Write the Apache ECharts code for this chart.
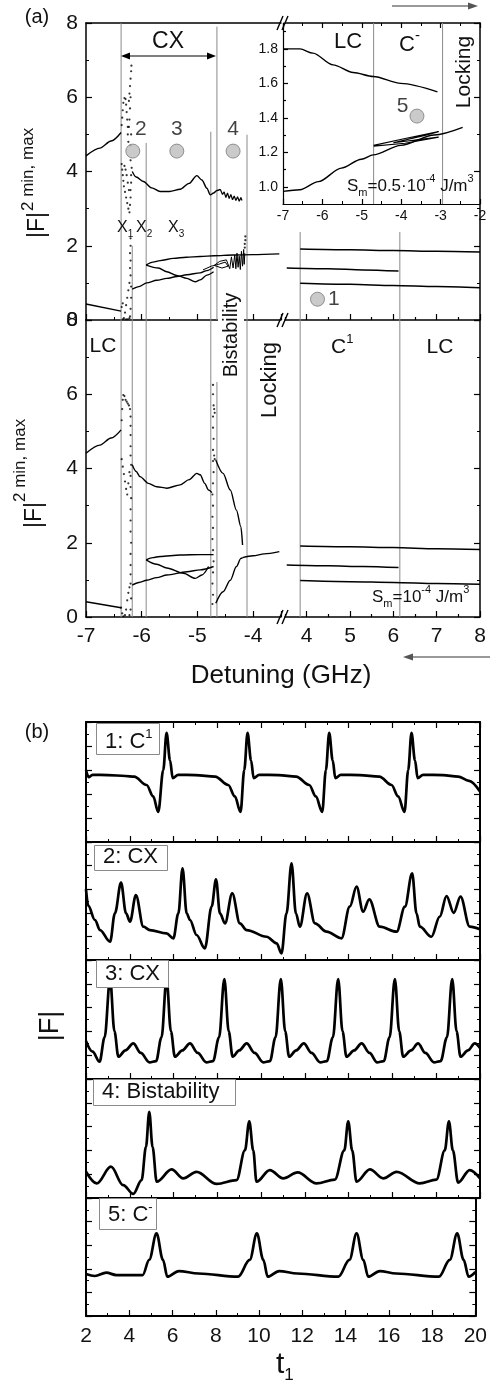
<!DOCTYPE html>
<html>
<head>
<meta charset="utf-8">
<script src="https://cdn.jsdelivr.net/npm/echarts@6.0.0/dist/echarts.min.js"></script>
<style>
html,body{margin:0;padding:0;background:#fff;}
#chart{width:490px;height:1385px;}
</style>
</head>
<body>
<div id="chart"></div>
<script>
// ======================= DATA =======================
// ---- Panel (a), upper plot, negative detuning segment (GHz, |F|^2) ----
const aU_lcTop = [[-7,4.42],[-6.75,4.63],[-6.55,4.82],[-6.37,5.05]];
const aU_lcBottom = [[-7,0.43],[-6.37,0.24]];
const aU_cxTop = [[-6.17,4.0],[-6.1,3.85],[-5.97,3.73],[-5.82,3.56],[-5.67,3.46],[-5.5,3.46],[-5.31,3.52],[-5.15,3.68],[-5.01,3.89],[-4.92,3.77],[-4.83,3.55],[-4.77,3.37],[-4.71,3.42],[-4.65,3.49],[-4.59,3.52]];
const aU_cxNoise = [[-4.59,3.52],[-4.55,3.38],[-4.52,3.45],[-4.49,3.3],[-4.46,3.42],[-4.43,3.27],[-4.4,3.38],[-4.37,3.24],[-4.34,3.34],[-4.31,3.22],[-4.28,3.32],[-4.25,3.2],[-4.22,3.3],[-4.2,3.22]];
const aU_lower = [[-6.17,0.83],[-6.05,0.9],[-5.91,1.0],[-5.73,1.07],[-5.55,1.12],[-5.37,1.17],[-5.19,1.22],[-4.95,1.27],[-4.83,1.33],[-4.71,1.42]];
const aU_lobeTop = [[-5.92,1.48],[-5.8,1.56],[-5.67,1.6],[-5.43,1.66],[-5.2,1.69],[-4.95,1.71],[-4.7,1.73],[-4.36,1.75],[-4.0,1.76],[-3.53,1.78]];
const aU_lobeBottom = [[-5.92,1.48],[-5.7,1.4],[-5.55,1.3],[-5.37,1.2],[-5.19,1.12],[-5.04,1.03],[-4.95,1.08],[-4.83,1.21],[-4.71,1.3]];
const aU_blob = [[-4.9,1.35],[-4.75,1.45],[-4.62,1.5],[-4.5,1.56],[-4.45,1.45],[-4.56,1.4],[-4.7,1.47],[-4.6,1.58],[-4.48,1.62],[-4.42,1.38],[-4.39,1.7],[-4.36,1.4],[-4.33,1.75],[-4.31,1.38],[-4.29,1.8],[-4.27,1.42],[-4.25,1.72],[-4.23,1.36],[-4.21,1.85],[-4.19,1.45],[-4.17,1.9],[-4.16,1.5],[-4.15,1.8]];
const aU_chaos = [[-6.36,5.25],[-6.35,5.45],[-6.34,5.65],[-6.33,5.85],[-6.31,5.98],[-6.29,5.95],[-6.28,5.8],[-6.27,5.6],[-6.26,5.4],[-6.25,5.2],[-6.25,5.0],[-6.24,4.8],[-6.23,5.9],[-6.22,6.1],[-6.21,6.3],[-6.2,6.5],[-6.19,6.7],[-6.185,6.85],[-6.2,6.0],[-6.21,5.7],[-6.22,5.4],[-6.23,5.2],[-6.19,5.0],[-6.2,4.7],
  [-6.36,4.2],[-6.35,4.05],[-6.34,3.9],[-6.33,3.75],[-6.32,3.6],[-6.3,3.45],[-6.28,3.3],[-6.26,3.15],[-6.24,3.0],[-6.22,2.9],[-6.21,3.1],[-6.2,3.3],[-6.2,3.5],[-6.19,3.7],[-6.19,3.9],[-6.18,4.1],[-6.2,4.3],[-6.23,3.5],[-6.25,3.7],[-6.27,3.9],[-6.29,4.05],[-6.31,4.15],
  [-6.2,2.2],[-6.2,2.0],[-6.21,1.8],[-6.2,1.6],[-6.21,1.4],[-6.2,1.2],[-6.22,1.0],[-6.24,0.8],[-6.26,0.6],[-6.28,0.4],[-6.3,0.2],[-6.32,0.05],[-6.34,0.02],[-6.22,0.05],[-6.2,0.3],[-6.19,0.6],[-6.19,0.9],[-6.21,0.1],[-6.25,0.02],[-6.28,0.02],[-6.36,0.35],[-6.34,0.45]];
const aU_spike = [[-4.15,1.95],[-4.15,2.05],[-4.14,2.15],[-4.14,2.25]];
// positive detuning segment
const aU_r1 = [[3.85,1.91],[5,1.89],[6,1.87],[7,1.85],[8,1.83]];
const aU_r2 = [[3.54,1.40],[4.5,1.38],[5.3,1.35],[6.12,1.32]];
const aU_r3 = [[3.85,0.99],[5,0.96],[6,0.93],[7,0.9],[8,0.87]];
// regime boundaries [GHz, from, to]
const aU_bounds = [[-6.37,0,8],[-6.17,0,2.0],[-5.92,0,4.77],[-4.76,0,5.07],[-4.65,0,7.9],[-4.11,0,4.99]];
const aU_boundsR = [[3.85,0,2.37],[6.15,0,2.37]];
const aU_points = [{n:'2',v:[-6.16,4.55]},{n:'3',v:[-5.37,4.55]},{n:'4',v:[-4.36,4.55]}];
const aU_pointR = [{n:'1',v:[4.25,0.56]}];

// ---- Panel (a), lower plot (Sm = 1e-4 J/m^3) ----
const aL_lcTop = [[-7,4.41],[-6.75,4.63],[-6.55,4.82],[-6.37,5.04]];
const aL_lcBottom = [[-7,0.41],[-6.37,0.25]];
const aL_cxTop = [[-6.17,4.1],[-6.1,3.92],[-6.03,3.78],[-5.88,3.6],[-5.73,3.51],[-5.55,3.47],[-5.31,3.56],[-5.15,3.7],[-5.01,3.87],[-4.95,3.83],[-4.87,3.6],[-4.8,3.42],[-4.74,3.35]];
const aL_lower = [[-6.17,0.86],[-6.05,0.93],[-5.91,0.99],[-5.73,1.06],[-5.55,1.13],[-5.19,1.22],[-4.95,1.27],[-4.71,1.36]];
const aL_lobeTop = [[-5.92,1.54],[-5.8,1.6],[-5.67,1.63],[-5.31,1.67],[-4.95,1.68],[-4.71,1.68]];
const aL_lobeBottom = [[-5.92,1.54],[-5.73,1.42],[-5.55,1.32],[-5.25,1.18],[-5.04,1.04],[-4.92,1.13],[-4.8,1.36]];
const aL_bistUpper = [[-4.67,4.23],[-4.54,3.87],[-4.41,3.42],[-4.3,2.88],[-4.22,2.43],[-4.19,1.94]];
const aL_bistLower = [[-4.67,0.37],[-4.54,0.68],[-4.41,0.99],[-4.3,1.36],[-4.22,1.58],[-4.19,1.6]];
const aL_lockLine = [[-4.19,1.6],[-4.0,1.65],[-3.8,1.7],[-3.53,1.76]];
const aL_chaos1 = [[-6.36,5.3],[-6.35,5.6],[-6.34,5.85],[-6.33,5.98],[-6.31,5.95],[-6.29,5.85],[-6.27,5.8],[-6.25,5.75],[-6.23,5.7],[-6.21,5.6],[-6.2,5.4],[-6.2,5.15],[-6.2,4.9],[-6.2,4.6],[-6.2,4.35],[-6.19,4.1],[-6.2,3.8],[-6.2,3.5],[-6.19,3.2],[-6.2,2.9],[-6.2,2.6],[-6.2,2.3],[-6.19,2.0],[-6.2,1.7],[-6.2,1.4],[-6.2,1.15],
  [-6.36,4.25],[-6.34,4.05],[-6.32,3.85],[-6.3,3.65],[-6.28,3.45],[-6.26,3.3],[-6.24,3.6],[-6.22,3.9],
  [-6.37,0.25],[-6.35,0.1],[-6.33,0.02],[-6.3,0.05],[-6.28,0.2],[-6.26,0.45],[-6.24,0.65],[-6.22,0.8],[-6.2,0.9],[-6.19,0.5],[-6.2,0.2],[-6.22,0.05]];
const aL_chaos2 = [[-4.73,0.35],[-4.72,0.6],[-4.73,0.9],[-4.72,1.2],[-4.71,1.5],[-4.72,1.8],[-4.73,2.1],[-4.72,2.4],[-4.73,2.7],[-4.72,3.0],[-4.73,3.3],[-4.72,3.6],[-4.71,3.9],[-4.72,4.2],[-4.72,4.5],[-4.71,4.8],[-4.72,5.1],[-4.72,5.4],[-4.71,5.7],[-4.72,6.0],[-4.72,6.25],[-4.7,4.35],[-4.69,4.25],[-4.7,5.6],[-4.69,5.5]];
const aL_r1 = [[3.85,1.91],[5,1.89],[6,1.87],[7,1.84],[8,1.82]];
const aL_r2 = [[3.54,1.40],[4.5,1.38],[5.3,1.36],[6.12,1.33]];
const aL_r3 = [[3.85,0.98],[5,0.95],[6,0.93],[7,0.9],[8,0.88]];
const aL_bounds = [[-6.37,0,8],[-6.17,0,8],[-5.92,0,8],[-4.76,0,8],[-4.65,0,6.33],[-4.11,0,8]];
const aL_boundsR = [[3.85,0,8],[6.15,0,8]];

// ---- Inset (Sm = 0.5e-4 J/m^3) ----
const in_top = [[-7,1.80],[-6.57,1.80],[-6.24,1.775],[-5.73,1.707],[-5.22,1.663],[-4.71,1.64],[-4.01,1.60],[-3.08,1.55]];
const in_bottom = [[-7,0.973],[-6.57,0.983],[-6.1,1.03],[-5.52,1.108],[-5.01,1.16],[-4.71,1.185],[-4.01,1.24],[-3.16,1.30],[-2.44,1.344]];
const in_wedge = [[-4.7,1.24],[-3.9,1.28],[-3.05,1.32],[-3.4,1.298],[-4.2,1.255],[-3.05,1.288],[-3.9,1.252],[-4.7,1.236]];
const in_bounds = [[-4.7,0.9,1.95],[-2.95,0.9,1.95]];
const in_point = [{n:'5',v:[-3.6,1.41]}];
const in_yTicks = [1.0,1.2,1.4,1.6,1.8];
const in_yMinor = [1.1,1.3,1.5,1.7,1.9];

const aR_majorTicks = [4,5,6,7,8];
const aR_minorTicks = [3.5,4.5,5.5,6.5,7.5];

// ---- Panel (b), time traces |F| vs t1 (arbitrary units 0..10) ----
const b1_C1 = [[2.0,6.0],[2.12,5.4],[2.3,5.6],[3.0,5.58],[3.8,5.5],[4.2,5.44],[4.77,4.75],[5.07,3.8],[5.3,2.5],[5.53,6.0],[5.68,9.1],[5.84,6.8],[5.96,5.33],[6.21,5.6],[7.0,5.58],[7.9,5.45],[8.5,4.75],[8.8,3.8],[9.06,2.5],[9.23,6.0],[9.38,9.1],[9.54,6.8],[9.66,5.33],[9.91,5.6],[10.8,5.58],[11.6,5.45],[12.2,4.75],[12.5,3.8],[12.79,2.5],[12.96,6.0],[13.11,9.1],[13.27,6.8],[13.39,5.33],[13.64,5.6],[14.5,5.58],[15.4,5.45],[15.96,4.75],[16.26,3.8],[16.55,2.5],[16.72,6.0],[16.87,9.1],[17.03,6.8],[17.15,5.33],[17.4,5.6],[18.3,5.58],[19.0,5.45],[19.5,5.1],[20.0,4.2]];
const b2_CX = [[2.0,6.0],[2.1,4.6],[2.41,3.39],[2.64,2.54],[3.1,1.55],[3.32,3.95],[3.6,6.55],[3.83,3.95],[4.01,3.25],[4.28,5.5],[4.62,2.82],[4.92,2.54],[5.68,2.26],[5.99,1.84],[6.22,3.95],[6.41,7.77],[6.6,3.95],[6.75,3.39],[7.05,2.12],[7.43,0.99],[7.74,4.52],[7.94,6.84],[8.12,3.95],[8.35,3.11],[8.68,5.65],[9.03,3.11],[9.34,2.54],[10.25,1.97],[10.71,1.41],[10.93,0.56],[11.16,3.95],[11.39,8.19],[11.59,3.95],[11.77,2.82],[12.1,5.65],[12.46,3.11],[12.99,2.4],[13.67,1.84],[14.05,4.52],[14.36,6.21],[14.66,4.1],[14.94,5.14],[15.42,2.82],[16.19,2.4],[16.57,4.52],[16.9,7.35],[17.1,3.95],[17.25,2.82],[17.78,1.97],[18.16,3.67],[18.47,5.42],[18.8,4.0],[19.11,5.37],[19.53,2.82],[20.0,2.6]];
const b3_CX = [[2.0,3.2],[2.3,2.3],[2.62,1.45],[2.85,3.5],[3.10,8.4],[3.3,4.0],[3.48,1.87],[3.8,2.4],[4.16,3.0],[4.5,2.2],[4.9,1.4],[5.2,1.5],[5.45,3.5],[5.68,8.4],[5.88,4.0],[6.06,1.87],[6.4,2.4],[6.75,3.0],[7.1,2.2],[7.5,1.4],[7.8,1.5],[8.08,3.5],[8.32,8.4],[8.52,4.0],[8.7,1.87],[9.0,2.4],[9.34,3.0],[9.7,2.2],[10.1,1.4],[10.4,1.5],[10.66,3.5],[10.9,8.4],[11.1,4.0],[11.28,1.87],[11.6,2.4],[11.95,3.0],[12.3,2.2],[12.7,1.4],[13.0,1.5],[13.28,3.5],[13.52,8.4],[13.72,4.0],[13.9,1.87],[14.25,2.4],[14.59,3.0],[14.95,2.2],[15.3,1.4],[15.6,1.5],[15.87,3.5],[16.11,8.4],[16.31,4.0],[16.49,1.87],[16.85,2.4],[17.17,3.0],[17.5,2.2],[17.9,1.4],[18.2,1.5],[18.49,3.5],[18.73,8.4],[18.93,4.0],[19.11,1.87],[19.45,2.4],[19.76,3.0],[20.0,2.6]];
const b4_Bistability = [[2.0,2.21],[2.49,1.23],[3.14,2.63],[3.7,1.08],[4.16,0.34],[4.54,1.5],[4.74,4.3],[4.89,7.25],[5.04,4.3],[5.23,1.37],[5.91,2.4],[6.44,1.65],[7.05,2.2],[7.97,1.18],[8.88,1.5],[9.26,4.0],[9.46,6.45],[9.64,4.0],[9.79,1.37],[10.4,2.35],[11.01,1.65],[11.67,2.15],[12.53,1.23],[13.37,1.55],[13.8,4.0],[13.98,6.45],[14.16,4.0],[14.36,1.37],[14.97,2.4],[15.58,1.65],[16.19,2.2],[17.25,1.23],[18.01,1.55],[18.39,4.0],[18.58,6.45],[18.76,4.0],[19.0,1.3],[19.53,2.35],[20.0,1.65]];
const b5_Cminus = [[2.0,3.56],[2.41,3.39],[2.94,3.67],[3.4,3.47],[4.62,3.47],[4.92,4.75],[5.26,7.0],[5.56,4.75],[5.76,3.33],[6.29,3.81],[7.2,3.6],[9.03,3.33],[9.57,4.75],[9.9,7.0],[10.2,4.75],[10.4,3.33],[10.93,3.81],[11.77,3.6],[13.67,3.33],[14.18,4.75],[14.51,7.0],[14.82,4.75],[15.05,3.33],[15.58,3.81],[16.34,3.6],[18.32,3.33],[18.82,4.75],[19.16,7.0],[19.46,4.75],[19.69,3.33],[20.0,3.73]];
const bTraces = [b1_C1, b2_CX, b3_CX, b4_Bistability, b5_Cminus];
const bLabels = [['1: C','1'],['2: CX',''],['3: CX',''],['4: Bistability',''],['5: C','-']];

// ======================= CHART =======================
const FF = '"Liberation Sans", Arial, Helvetica, sans-serif';
const BLK = '#000';
const GRAYLINE = '#8a8a8a';
const grids = [], xAxes = [], yAxes = [], series = [], G = [];
const cv = document.createElement('canvas').getContext('2d');
function tw(s, size){ cv.font = size + 'px ' + FF; return cv.measureText(s).width; }

function addGrid(l, t, w, h){ grids.push({left:l, top:t, width:w, height:h, containLabel:false}); return grids.length-1; }
function tick(len, extra){ return Object.assign({show:true, inside:true, length:len, lineStyle:{color:BLK, width:1.2}}, extra||{}); }
function minor(n, len){ return {show:true, splitNumber:n, length:len, lineStyle:{color:BLK, width:1}}; }
function axLine(show, w){ return {show:show, onZero:false, lineStyle:{color:BLK, width:w||1.5}}; }
function noLabel(){ return {show:false}; }
function addAxis(arr, o){ arr.push(Object.assign({type:'value', splitLine:{show:false}, axisLine:axLine(true), axisTick:{show:false}, minorTick:{show:false}, axisLabel:noLabel()}, o)); return arr.length-1; }
const intFmt = v => (Math.abs(v - Math.round(v)) < 1e-9 ? String(Math.round(v)) : '');

function line(data, xi, yi, o){ series.push(Object.assign({type:'line', data:data, xAxisIndex:xi, yAxisIndex:yi, showSymbol:false, symbol:'none', smooth:0.3, smoothMonotone:'x', lineStyle:{color:BLK, width:1.4}, silent:true, animation:false, z:3}, o||{})); }
function dots(data, xi, yi, size){ series.push({type:'scatter', data:data, xAxisIndex:xi, yAxisIndex:yi, symbolSize:size||2, itemStyle:{color:BLK}, silent:true, animation:false, z:3}); }
function bounds(list, xi, yi){ list.forEach(b => line([[b[0],b[1]],[b[0],b[2]]], xi, yi, {smooth:false, smoothMonotone:null, lineStyle:{color:GRAYLINE, width:1}, z:1})); }
function markers(list, xi, yi, pos, offset, dist){
  series.push({type:'scatter', xAxisIndex:xi, yAxisIndex:yi, symbolSize:14, silent:true, animation:false, z:4,
    itemStyle:{color:'#bdbdbd', borderColor:'#7a7a7a', borderWidth:1},
    data:list.map(p => ({value:p.v, label:{show:true, formatter:p.n, position:pos, offset:offset, distance:dist, fontSize:21, fontFamily:FF, color:'#111'}}))});
}

function txt(x, y, s, size, align, rot, extra){
  G.push({type:'text', x:x, y:y, rotation:rot||0, silent:true, z:100,
    style:Object.assign({text:s, font:size + 'px ' + FF, fill:'#111', align:align||'center', verticalAlign:'middle', textAlign:align||'center', textVerticalAlign:'middle'}, extra||{})});
}
function seq(x, y, parts){ let cx = x; parts.forEach(p => { txt(cx, y + (p[2]||0), p[0], p[1], 'left'); cx += tw(p[0], p[1]); }); }
function seg(x1,y1,x2,y2,color,w){ G.push({type:'line', silent:true, z:100, shape:{x1,y1,x2,y2}, style:{stroke:color, lineWidth:w}}); }
function tri(pts, color){ G.push({type:'polygon', silent:true, z:100, shape:{points:pts}, style:{fill:color}}); }

// ----- panel (a) grids -----
const gUL = addGrid(86, 23, 195, 297);
const gUR = addGrid(285, 23, 195, 297);
const gLL = addGrid(86, 320, 195, 297);
const gLR = addGrid(285, 320, 195, 297);
const gIN = addGrid(283, 23, 197, 181);

const leftX = {min:-7, max:-3.5, interval:1};
const rightX = {min:3.5, max:8};
const yA = {min:0, max:8, interval:2};

// upper-left
const xUL = addAxis(xAxes, Object.assign({gridIndex:gUL, position:'bottom', axisTick:tick(6), minorTick:minor(2,3)}, leftX));
addAxis(xAxes, Object.assign({gridIndex:gUL, position:'top'}, leftX));
const yUL = addAxis(yAxes, Object.assign({gridIndex:gUL, position:'left', axisTick:tick(6), minorTick:minor(2,3), axisLabel:{show:true, fontSize:21, fontFamily:FF, color:'#111', margin:8}}, yA));
// upper-right
const xUR = addAxis(xAxes, Object.assign({gridIndex:gUR, position:'bottom', axisTick:tick(6, {customValues:aR_majorTicks})}, rightX));
addAxis(xAxes, Object.assign({gridIndex:gUR, position:'bottom', axisLine:axLine(false), axisTick:tick(3, {customValues:aR_minorTicks})}, rightX));
addAxis(xAxes, Object.assign({gridIndex:gUR, position:'top'}, rightX));
const yUR = addAxis(yAxes, Object.assign({gridIndex:gUR, position:'right', axisTick:tick(6), minorTick:minor(2,3)}, yA));
// lower-left
const xLL = addAxis(xAxes, Object.assign({gridIndex:gLL, position:'bottom', axisTick:tick(6), minorTick:minor(2,3), axisLabel:{show:true, fontSize:21, fontFamily:FF, color:'#111', margin:9, formatter:intFmt}}, leftX));
const yLL = addAxis(yAxes, Object.assign({gridIndex:gLL, position:'left', axisTick:tick(6), minorTick:minor(2,3), axisLabel:{show:true, fontSize:21, fontFamily:FF, color:'#111', margin:8}}, yA));
// lower-right
const xLR = addAxis(xAxes, Object.assign({gridIndex:gLR, position:'bottom', axisTick:tick(6, {customValues:aR_majorTicks}), axisLabel:{show:true, customValues:aR_majorTicks, fontSize:21, fontFamily:FF, color:'#111', margin:9}}, rightX));
addAxis(xAxes, Object.assign({gridIndex:gLR, position:'bottom', axisLine:axLine(false), axisTick:tick(3, {customValues:aR_minorTicks})}, rightX));
const yLR = addAxis(yAxes, Object.assign({gridIndex:gLR, position:'right', axisTick:tick(6), minorTick:minor(2,3)}, yA));
// inset
const xIN = addAxis(xAxes, {gridIndex:gIN, position:'bottom', min:-7, max:-2, interval:1, axisLine:axLine(true,1.2), axisTick:tick(5), minorTick:minor(2,3), axisLabel:{show:true, fontSize:14, fontFamily:FF, color:'#111', margin:5}});
addAxis(xAxes, {gridIndex:gIN, position:'top', min:-7, max:-2, interval:1, axisLine:axLine(false), axisTick:tick(5), minorTick:minor(2,3)});
const yIN = addAxis(yAxes, {gridIndex:gIN, position:'left', min:0.9, max:1.95, axisLine:axLine(true,1.2), axisTick:tick(5, {customValues:in_yTicks}), axisLabel:{show:true, customValues:in_yTicks, formatter:v => v.toFixed(1), fontSize:14, fontFamily:FF, color:'#111', margin:5}});
addAxis(yAxes, {gridIndex:gIN, position:'left', min:0.9, max:1.95, axisLine:axLine(false), axisTick:tick(3, {customValues:in_yMinor})});

// ----- panel (a) series -----
bounds(aU_bounds, xUL, yUL); bounds(aU_boundsR, xUR, yUR);
bounds(aL_bounds, xLL, yLL); bounds(aL_boundsR, xLR, yLR);
bounds(in_bounds, xIN, yIN);
[aU_lcTop, aU_lcBottom, aU_cxTop, aU_lower, aU_lobeTop, aU_lobeBottom].forEach(d => line(d, xUL, yUL));
line(aU_cxNoise, xUL, yUL, {smooth:false, smoothMonotone:null, lineStyle:{color:BLK, width:1.2}});
line(aU_blob, xUL, yUL, {smooth:false, smoothMonotone:null, lineStyle:{color:BLK, width:1}});
dots(aU_chaos, xUL, yUL, 2.2); dots(aU_spike, xUL, yUL, 2.2);
[aU_r1, aU_r2, aU_r3].forEach(d => line(d, xUR, yUR, {lineStyle:{color:BLK, width:1.5}}));
[aL_lcTop, aL_lcBottom, aL_cxTop, aL_lower, aL_lobeTop, aL_lobeBottom, aL_bistUpper, aL_bistLower, aL_lockLine].forEach(d => line(d, xLL, yLL));
dots(aL_chaos1, xLL, yLL, 2.2); dots(aL_chaos2, xLL, yLL, 2.2);
[aL_r1, aL_r2, aL_r3].forEach(d => line(d, xLR, yLR, {lineStyle:{color:BLK, width:1.5}}));
line(in_top, xIN, yIN); line(in_bottom, xIN, yIN);
line(in_wedge, xIN, yIN, {smooth:false, smoothMonotone:null, lineStyle:{color:BLK, width:1.1}});
markers(aU_points, xUL, yUL, 'top', [0,0], 4);
series[series.length-1].data[0].label.offset = [8,0];
markers(aU_pointR, xUR, yUR, 'right', [0,0], 3);
markers(in_point, xIN, yIN, 'left', [2,-10], 3);

// ----- panel (b) -----
const bTop = [722, 842, 960, 1079, 1198];
const bH = [120, 118, 119, 119, 118];
bTraces.forEach((d, i) => {
  const g = addGrid(86, bTop[i], 394, bH[i]);
  const last = i === 4;
  const xi = addAxis(xAxes, {gridIndex:g, position:'bottom', min:2, max:20, interval:2, axisLine:axLine(true,2), axisTick:tick(6), minorTick:minor(2,3),
    axisLabel: last ? {show:true, fontSize:21, fontFamily:FF, color:'#111', margin:10} : noLabel()});
  if (i === 0) addAxis(xAxes, {gridIndex:g, position:'top', min:2, max:20, interval:2, axisLine:axLine(true,2), axisTick:tick(6), minorTick:minor(2,3)});
  const yi = addAxis(yAxes, {gridIndex:g, position:'left', min:0, max:10, interval:2, axisLine:axLine(true,2), axisTick:tick(6), minorTick:minor(2,3)});
  addAxis(yAxes, {gridIndex:g, position:'right', min:0, max:10, interval:2, axisLine:axLine(true,2), axisTick:tick(6), minorTick:minor(2,3)});
  line(d, xi, yi, {smooth:0.35, lineStyle:{color:BLK, width:2.7}});
});

// ----- texts & decorations -----
txt(37, 17, '(a)', 20);
txt(168, 42, 'CX', 23);
seg(124, 56, 213, 56, BLK, 1.2);
tri([[121,56],[130,52.5],[130,59.5]], BLK); tri([[216,56],[207,52.5],[207,59.5]], BLK);
seq(117, 228, [['X',16],['1',10,6]]);
seq(136, 228, [['X',16],['2',10,6]]);
seq(168, 228, [['X',16],['3',10,6]]);
// inset labels
txt(348, 42, 'LC', 22);
seq(399, 45, [['C',22],['-',15,-9]]);
txt(464, 72, 'Locking', 21, 'center', Math.PI/2);
seq(347, 186, [['S',17],['m',11,7],['=0.5\u00b710',17],['-4',11,-7],[' J/m',17],['3',11,-7]]);
// lower panel labels
txt(231, 335, 'Bistability', 20, 'center', Math.PI/2, {backgroundColor:'#fff', padding:[3,5,3,5]});
txt(270, 380, 'Locking', 22, 'center', Math.PI/2);
txt(103, 346, 'LC', 21);
seq(331, 347, [['C',21],['1',13,-8]]);
txt(440, 347, 'LC', 21);
seq(372, 597, [['S',17],['m',11,7],['=10',17],['-4',11,-7],[' J/m',17],['3',11,-7]]);
txt(281, 676, 'Detuning (GHz)', 26);
// y titles panel (a)
txt(38, 225, '|F|', 23, 'center', Math.PI/2);
txt(28, 211, '2 min, max', 17, 'left', Math.PI/2);
txt(35, 515, '|F|', 23, 'center', Math.PI/2);
txt(20, 502, '2 min, max', 17, 'left', Math.PI/2);
// direction arrows
seg(392, 6, 470, 6, '#777', 1.3); tri([[478,6],[468,2.5],[468,9.5]], '#555');
seg(412, 657, 490, 657, '#777', 1.3); tri([[403,657],[413,653.5],[413,660.5]], '#555');
// axis breaks
[23, 320, 617].forEach(y => { seg(277, y+7, 283, y-7, BLK, 1.4); seg(282, y+7, 288, y-7, BLK, 1.4); });
// panel (b)
txt(37, 732, '(b)', 20);
const boxes = [[96,723,63,31,742],[94,845,73,25,857],[96,960,72,27,974],[93,1079,142,26,1092],[99,1198,57,31,1215]];
boxes.forEach((b, i) => {
  G.push({type:'rect', silent:true, z:90, shape:{x:b[0]+0.5, y:b[1]+0.5, width:b[2], height:b[3]}, style:{fill:'#fff', stroke:'#8a8a8a', lineWidth:1}});
  const lab = bLabels[i];
  const parts = [[lab[0],22]];
  if (lab[1]) parts.push([lab[1],13,-8]);
  seq(b[0]+9, b[4], parts);
});
txt(51, 1026, '|F|', 27, 'center', Math.PI/2);
seq(276, 1365, [['t',30],['1',17,10]]);

const chart = echarts.init(document.getElementById('chart'), null, {renderer:'canvas'});
chart.setOption({
  animation:false,
  backgroundColor:'#fff',
  textStyle:{fontFamily:FF},
  grid:grids, xAxis:xAxes, yAxis:yAxes, series:series,
  graphic:{elements:G}
});
</script>
</body>
</html>
